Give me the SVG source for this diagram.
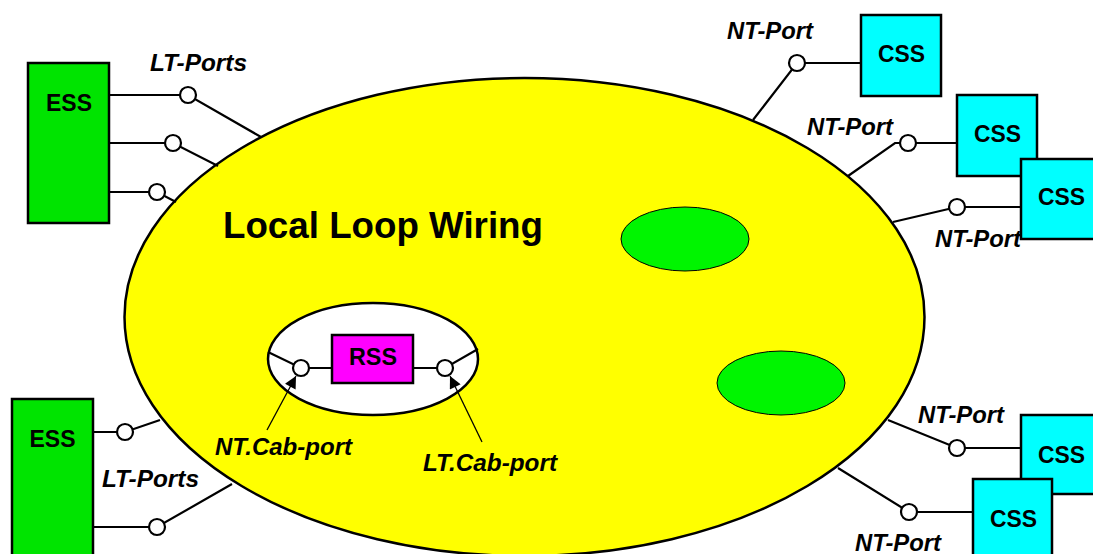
<svg xmlns="http://www.w3.org/2000/svg" width="1093" height="554" viewBox="0 0 1093 554">
<style>
text{font-family:"Liberation Sans",Arial,sans-serif;font-weight:bold;fill:#000}
.lbl{font-size:23px;text-anchor:middle}
.port{font-size:23px;font-style:italic}
.box{stroke:#000;stroke-width:2.5}
.ess{fill:#00E400}
.css{fill:#00FFFF}
.ln{stroke:#000;stroke-width:2.2;fill:none}
.pc{fill:#fff;stroke:#000;stroke-width:2.2}
.arr{stroke:#000;stroke-width:1.3;fill:none}
</style>
<defs>
<marker id="ah" viewBox="0 0 10 10" refX="10" refY="5" markerWidth="20" markerHeight="12" markerUnits="userSpaceOnUse" orient="auto">
<path d="M0,0 L10,5 L0,10 z" fill="#000"/>
</marker>
</defs>
<rect width="1093" height="554" fill="#fff"/>
<g id="local-loop">
<ellipse cx="524.5" cy="317" rx="400" ry="239" fill="#FFFF00" stroke="#000" stroke-width="2.5"/>
<text x="223" y="238" style="font-size:36px" textLength="320" lengthAdjust="spacingAndGlyphs">Local Loop Wiring</text>
<ellipse cx="685" cy="239" rx="64" ry="32" fill="#00F500" stroke="#000" stroke-width="1"/>
<ellipse cx="781" cy="383" rx="64" ry="32" fill="#00F500" stroke="#000" stroke-width="1"/>
</g>
<g id="cabinet">
<ellipse cx="373" cy="359" rx="105" ry="56" fill="#fff" stroke="#000" stroke-width="2.5"/>
</g>
<g id="connectors">
<path class="ln" d="M109,95H188L261,137M109,143H173L218,166M109,192H157L176,202"/>
<path class="ln" d="M93,432H125L160,420M93,527H157L232,484"/>
<path class="ln" d="M861,63H797L753,120M957,143H895L848,176M1021,207H957L893,222"/>
<path class="ln" d="M1021,448H957L888,420M973,512H909L838,468"/>
<path class="ln" d="M268,352L301,368H332M413,368H445L478,349"/>
<line class="arr" x1="267" y1="430" x2="296" y2="376" marker-end="url(#ah)"/>
<line class="arr" x1="482" y1="442" x2="450" y2="376" marker-end="url(#ah)"/>
</g>
<g id="ports">
<circle class="pc" cx="188" cy="95" r="8"/>
<circle class="pc" cx="173" cy="143" r="8"/>
<circle class="pc" cx="157" cy="192" r="8"/>
<circle class="pc" cx="125" cy="432" r="8"/>
<circle class="pc" cx="157" cy="527" r="8"/>
<circle class="pc" cx="797" cy="63" r="8"/>
<circle class="pc" cx="908" cy="143" r="8"/>
<circle class="pc" cx="957" cy="207" r="8"/>
<circle class="pc" cx="957" cy="448" r="8"/>
<circle class="pc" cx="909" cy="512" r="8"/>
<circle class="pc" cx="301" cy="368" r="8"/>
<circle class="pc" cx="445" cy="368" r="8"/>
</g>
<g id="ess-top">
<rect class="box ess" x="28" y="63" width="81" height="160"/>
<text class="lbl" x="69" y="111" textLength="46" lengthAdjust="spacingAndGlyphs">ESS</text>
</g>
<g id="ess-bottom">
<rect class="box ess" x="12" y="399" width="81" height="170"/>
<text class="lbl" x="52.5" y="447" textLength="46" lengthAdjust="spacingAndGlyphs">ESS</text>
</g>
<g id="rss">
<rect class="box" x="332" y="335" width="81" height="48" fill="#FF00FF"/>
<text class="lbl" x="373" y="365" textLength="48" lengthAdjust="spacingAndGlyphs">RSS</text>
</g>
<g id="css-1">
<rect class="box css" x="861" y="15" width="80" height="81"/>
<text class="lbl" x="901.5" y="62" textLength="47" lengthAdjust="spacingAndGlyphs">CSS</text>
</g>
<g id="css-2">
<rect class="box css" x="957" y="95" width="80" height="81"/>
<text class="lbl" x="997.5" y="142" textLength="47" lengthAdjust="spacingAndGlyphs">CSS</text>
</g>
<g id="css-3">
<rect class="box css" x="1021" y="159" width="85" height="80"/>
<text class="lbl" x="1061.5" y="205" textLength="47" lengthAdjust="spacingAndGlyphs">CSS</text>
</g>
<g id="css-4">
<rect class="box css" x="1021" y="415" width="85" height="79"/>
<text class="lbl" x="1061.5" y="463" textLength="47" lengthAdjust="spacingAndGlyphs">CSS</text>
</g>
<g id="css-5">
<rect class="box css" x="973" y="479" width="79" height="90"/>
<text class="lbl" x="1013.5" y="527" textLength="47" lengthAdjust="spacingAndGlyphs">CSS</text>
</g>
<g id="labels">
<text class="port" x="150" y="71" textLength="97" lengthAdjust="spacingAndGlyphs">LT-Ports</text>
<text class="port" x="102" y="487" textLength="97" lengthAdjust="spacingAndGlyphs">LT-Ports</text>
<text class="port" x="727" y="39" textLength="86" lengthAdjust="spacingAndGlyphs">NT-Port</text>
<text class="port" x="807" y="135" textLength="86" lengthAdjust="spacingAndGlyphs">NT-Port</text>
<text class="port" x="935" y="247" textLength="86" lengthAdjust="spacingAndGlyphs">NT-Port</text>
<text class="port" x="918" y="423" textLength="86" lengthAdjust="spacingAndGlyphs">NT-Port</text>
<text class="port" x="855" y="551" textLength="86" lengthAdjust="spacingAndGlyphs">NT-Port</text>
<text class="port" x="215" y="455" textLength="137" lengthAdjust="spacingAndGlyphs">NT.Cab-port</text>
<text class="port" x="423" y="471" textLength="134" lengthAdjust="spacingAndGlyphs">LT.Cab-port</text>
</g>
</svg>
